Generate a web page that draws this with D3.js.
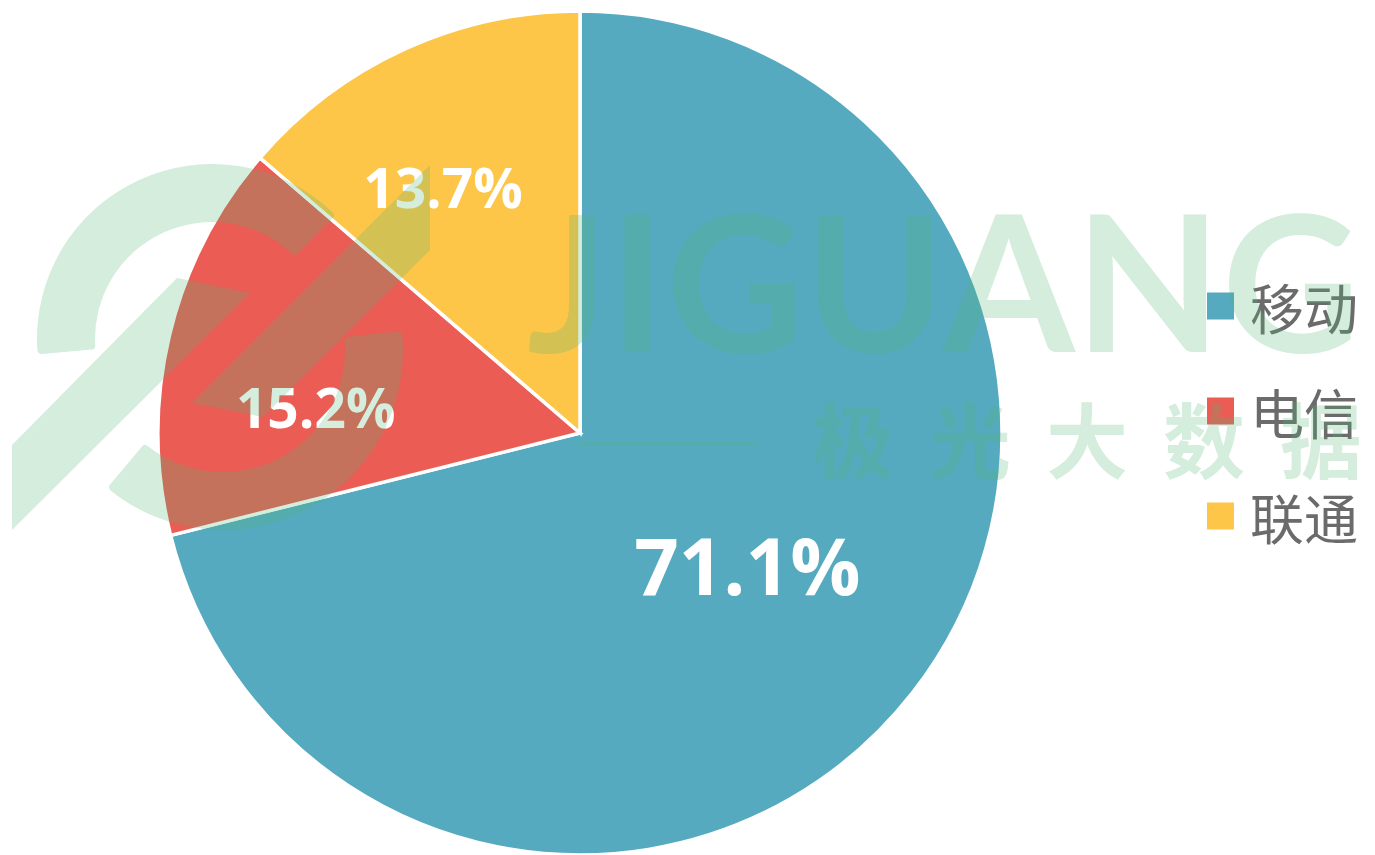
<!DOCTYPE html>
<html><head><meta charset="utf-8">
<script src="https://cdn.jsdelivr.net/npm/d3@7"></script>
<style>html,body{margin:0;padding:0;background:#fff;overflow:hidden}svg{display:block}</style>
</head><body>
<svg id="chart" width="1375" height="855"></svg>
<script>
// ---- data ----
const categories = ["移动", "电信", "联通"];
const shares = [71.1, 15.2, 13.7];
const labels = ["71.1%", "15.2%", "13.7%"];
const colors = ["#55aabf", "#eb5c55", "#fec648"];

// ---- layout ----
const W = 1375, H = 855;
const cx = 580, cy = 433, R = 422;
const labelNudge = [[1, 2], [-59, 22], [-49, -55]];

const svg = d3.select("#chart");
const g = svg.append("g").attr("transform", `translate(${cx},${cy})`);

const pie = d3.pie().sort(null).value(d => d)(shares);
const arc = d3.arc().innerRadius(0).outerRadius(R);
const labelArc = d3.arc().innerRadius(R * 0.5).outerRadius(R * 0.5);

g.selectAll("path.slice").data(pie).join("path")
  .attr("class", "slice")
  .attr("d", arc)
  .attr("fill", (d, i) => colors[i])
  .attr("stroke", "#fff").attr("stroke-width", 3.5).attr("stroke-linejoin", "miter");

g.selectAll("text.lbl").data(pie).join("text")
  .attr("class", "lbl")
  .attr("x", (d, i) => labelArc.centroid(d)[0] + labelNudge[i][0])
  .attr("y", (d, i) => labelArc.centroid(d)[1] + labelNudge[i][1])
  .attr("text-anchor", "middle").attr("dominant-baseline", "central")
  .attr("font-family", "'Open Sans', sans-serif").attr("font-weight", 700)
  .attr("font-size", (d, i) => i === 0 ? 78 : 55)
  .attr("fill", "#fff")
  .text((d, i) => labels[i]);

// ---- legend ----
const legY = d3.scalePoint().domain(categories).range([306, 516]);
const leg = svg.append("g");
leg.selectAll("rect").data(categories).join("rect")
  .attr("x", 1207).attr("y", d => legY(d) - 13.5)
  .attr("width", 27).attr("height", 27)
  .attr("fill", (d, i) => colors[i]);
leg.selectAll("text").data(categories).join("text")
  .attr("x", 1250).attr("y", d => legY(d))
  .attr("dominant-baseline", "central")
  .attr("font-family", "'Noto Sans CJK SC', sans-serif")
  .attr("font-size", 54).attr("fill", "#6b6b6b")
  .text(d => d);

// ---- watermark ----
const wm = svg.append("g").attr("opacity", 0.25).attr("fill", "rgb(80,180,116)");
const ringArc = d3.arc().cornerRadius(4);
wm.append("path").attr("transform", "translate(212,339)")
  .attr("d", ringArc({innerRadius: 117, outerRadius: 175, startAngle: -95 * Math.PI / 180, endAngle: 45 * Math.PI / 180}));
wm.append("path").attr("transform", "translate(223,350)")
  .attr("d", ringArc({innerRadius: 122, outerRadius: 180, startAngle: 84 * Math.PI / 180, endAngle: 220 * Math.PI / 180}));
const bandA = [[12, 445], [177, 278], [250, 293], [12, 530]];
const bandB = [[192, 403], [263, 417], [430, 250], [430, 165]];
[bandA, bandB].forEach(p => wm.append("path").attr("d", d3.line()(p) + "Z"));
wm.append("text").attr("x", 527).attr("y", 352)
  .attr("font-family", "Lato, sans-serif").attr("font-weight", 700)
  .attr("font-size", 190).attr("textLength", 833).attr("lengthAdjust", "spacing")
  .text("JIGUANG");
wm.append("text").attr("x", 812).attr("y", 436).attr("dominant-baseline", "central")
  .attr("font-family", "'Noto Sans CJK SC', sans-serif").attr("font-weight", 700)
  .attr("font-size", 82).attr("textLength", 550).attr("lengthAdjust", "spacing")
  .text("极光大数据");
wm.append("rect").attr("x", 578).attr("y", 442).attr("width", 180).attr("height", 3);
</script>
</body></html>
